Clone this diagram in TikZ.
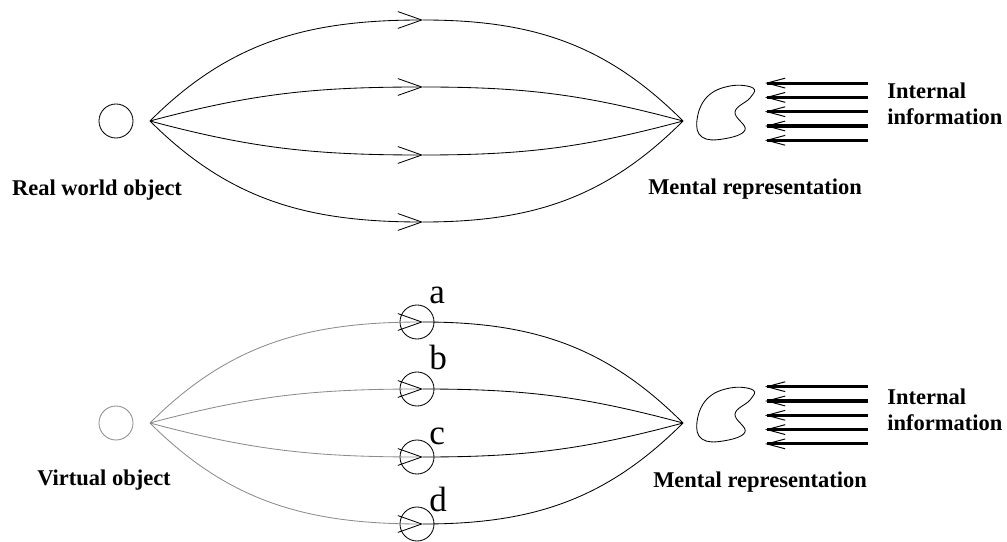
\documentclass[tikz,border=0pt]{standalone}
\usepackage{fontspec}
\setmainfont{Liberation Serif}
\usetikzlibrary{arrows.meta, positioning}

\begin{document}
\begin{tikzpicture}[x=0.025cm, y=0.025cm,
    object/.style={circle, draw=black, line width=0.6pt, minimum size=0.85cm, inner sep=0pt},
    ray/.style={line width=0.6pt},
    barb/.style={-{Straight Barb[length=17pt, width=12pt, line width=0.6pt, color=black]}},
    info/.style={line width=2.2pt, -{Straight Barb[length=13pt, width=7pt, line width=0.7pt]}},
    label/.style={font=\fontsize{16}{18.5}\selectfont\bfseries, align=left, inner sep=0pt},
    letter/.style={font=\fontsize{25}{27}\selectfont, anchor=base west, inner sep=0pt}
]
\useasboundingbox (0,0) rectangle (1007,541);

% Real world object
\node[object] (real) at (116,420) {};
\coordinate (L1) at (150,420);
\coordinate (R1) at (683,420);
\foreach \dy/\ang/\back [count=\i] in {101/45/135, 34/15/165, -34/-15/195, -101/-45/225} {
    \draw[ray, barb] (L1) to[out=\ang, in=180] ++(273,\dy) coordinate (p\i);
    \draw[ray] (p\i) to[out=0, in=\back] (R1);
}

% Mental representation
\draw[ray, shift={(R1)}] plot[smooth cycle, tension=0.7] coordinates {(70,33) (47,35) (24,24) (14,1) (19,-16) (40,-18) (62,-9) (52,9) (67,23)};
\foreach \k [count=\i] in {2,1,0,-1,-2} {
    \coordinate (s\i) at (868,429.3+14.3*\k);
    \coordinate (t\i) at (765,429.3+14.3*\k);
    \draw[info] (s\i) -- (t\i);
}

\node[label, anchor=base] (realtext) at (97,345) {Real world object};
\node[label, anchor=base] (mental1) at (755,346) {Mental representation};
\node[label, anchor=west] (info1) at (887,437.5) {Internal\\information};

% Virtual object
\node[object, draw=black!45] (virtual) at (116,118) {};
\coordinate (L2) at (150,118);
\coordinate (R2) at (683,118);
\foreach \dy/\ang/\back/\name/\up in {101/45/135/a/19, 34/15/165/b/20, -34/-15/195/c/13, -101/-45/225/d/13} {
    \node[object] (\name) at (417,118+\dy) {};
    \draw[ray, draw=black!45, barb] (L2) to[out=\ang, in=180] ++(273,\dy) coordinate (q\name);
    \draw[ray] (q\name) to[out=0, in=\back] (R2);
    \node[letter] at ([shift={(12,\up)}]\name.center) {\name};
}

% Mental representation
\draw[ray, shift={(R2)}] plot[smooth cycle, tension=0.7] coordinates {(70,33) (47,35) (24,24) (14,1) (19,-16) (40,-18) (62,-9) (52,9) (67,23)};
\foreach \k [count=\i] in {2,1,0,-1,-2} {
    \coordinate (u\i) at (868,125.7+14.3*\k);
    \coordinate (v\i) at (765,125.7+14.3*\k);
    \draw[info] (u\i) -- (v\i);
}

\node[label, anchor=base] (virtualtext) at (104,56) {Virtual object};
\node[label, anchor=base] (mental2) at (760,54) {Mental representation};
\node[label, anchor=west] (info2) at (887,131.5) {Internal\\information};

\end{tikzpicture}
\end{document}
